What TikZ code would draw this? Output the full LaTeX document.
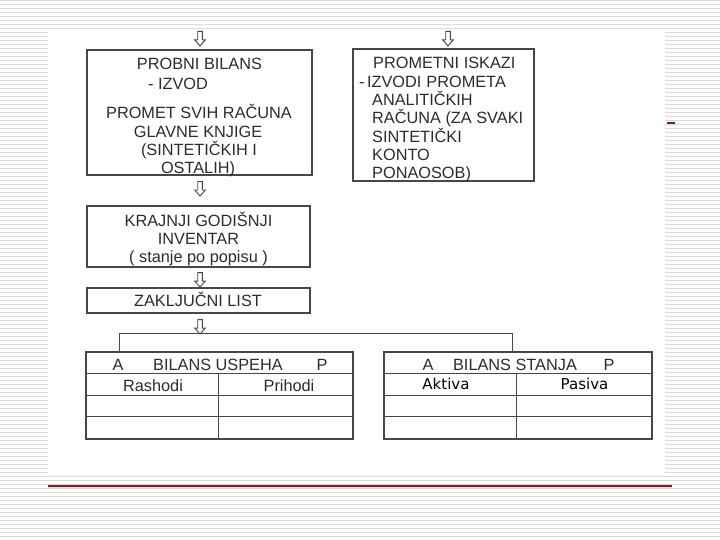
\documentclass[tikz,border=0pt]{standalone}
\usepackage{fontspec}
\setmainfont{Liberation Sans}
\newfontfamily\dvs{DejaVu Sans}
\usetikzlibrary{calc}
\definecolor{ink}{HTML}{2C2C2C}
\definecolor{edge}{HTML}{474747}
\definecolor{stripe}{HTML}{DADADA}
\definecolor{rulered}{HTML}{7B1F2B}
\definecolor{rulepink}{HTML}{F2D4D8}
\begin{document}
\begin{tikzpicture}[x=1pt,y=-1pt,
  box/.style={draw=edge, line width=1.1pt, inner sep=0pt},
  conn/.style={draw=edge, line width=1pt},
  txt/.style={text=ink, font=\fontsize{16.3}{18}\selectfont, inner sep=0pt, anchor=base},
  ltxt/.style={txt, anchor=base west},
  mtxt/.style={text=black, font=\dvs\fontsize{15}{18}\selectfont, inner sep=0pt, anchor=base},
  darrow/.pic={\draw[edge, line width=0.9pt, line join=miter, fill=white]
     (-2.3,0) -- (-2.3,8.5) -- (-5.3,8.5) -- (0,14.5) -- (5.3,8.5) -- (2.3,8.5) -- (2.3,0) -- cycle;}]
\useasboundingbox (0,0) rectangle (720,540);
% striped background
\foreach \y in {0.6,4.6,...,540} \draw[stripe, line width=1.2pt] (0,\y) -- (720,\y);
\fill[white] (48,30) rectangle (665,475.5);
% red rules
\draw[rulepink, line width=1.6pt] (48,487.6) -- (672,487.6);
\draw[rulered, line width=1.3pt] (48,486) -- (672,486);
\draw[rulered, line width=1.2pt] (667,123) -- (675,123);

% boxes
\node[box, minimum width=225pt, minimum height=125pt] (b1) at (199.5,112.5) {};
\node[box, minimum width=181pt, minimum height=132pt] (b2) at (443.5,115) {};
\node[box, minimum width=223pt, minimum height=61pt] (b3) at (198.5,236.5) {};
\node[box, minimum width=223pt, minimum height=25pt] (b4) at (198.5,300.5) {};
\node[box, minimum width=267pt, minimum height=87pt] (tl) at (219.5,395.5) {};
\node[box, minimum width=268pt, minimum height=87pt] (tr) at (518,395.5) {};

% table rules
\foreach \t in {tl,tr} {
  \draw[box] ($(\t.north west)+(0,22)$) -- ($(\t.north east)+(0,22)$);
  \draw[box] ($(\t.north west)+(0,44)$) -- ($(\t.north east)+(0,44)$);
  \draw[box] ($(\t.north west)+(0,65)$) -- ($(\t.north east)+(0,65)$);
  \draw[box] ($(\t.north west)+(133,22)$) -- ($(\t.south west)+(133,0)$);
}

% hollow arrows
\pic (a1) at ($(b1.north)+(0.5,-18)$) {darrow};
\pic (a2) at ($(b2.north)+(4.5,-17)$) {darrow};
\pic (a3) at ($(b1.south)+(0.5,6)$) {darrow};
\pic (a4) at ($(b3.south)+(1.5,5)$) {darrow};
\pic (a5) at ($(b4.south)+(1.5,6)$) {darrow};

% distribution line
\coordinate (bus) at ($(b4.south)+(1.5,20)$);
\draw[conn] ($(tl.north west)+(34,0)$) |- (bus) -| ($(tr.north west)+(129,0)$);

% box 1 text
\node[txt] (t11) at (199.5,70) {PROBNI BILANS};
\node[txt] (t12) at (178,90) {- IZVOD};
\node[txt] (t13) at (199,119) {PROMET SVIH RAČUNA};
\node[txt] (t14) at (198,137.2) {GLAVNE KNJIGE};
\node[txt] (t15) at (199,155.4) {(SINTETIČKIH I};
\node[txt] (t16) at (198,173.6) {OSTALIH)};

% box 2 text
\node[ltxt] (t21) at (373,69) {PROMETNI ISKAZI};
\node[ltxt] (t22) at (359,87.5) {-\hspace{2.5pt}IZVODI\hspace{5pt}PROMETA};
\node[ltxt] (t23) at (372,105.7) {ANALITIČKIH};
\node[ltxt] (t24) at (372,123.9) {RAČUNA (ZA SVAKI};
\node[ltxt] (t25) at (372,142.1) {SINTETIČKI};
\node[ltxt] (t26) at (372,160.3) {KONTO};
\node[ltxt] (t27) at (372,178.5) {PONAOSOB)};

% box 3 and 4 text
\node[txt] (t31) at (198.5,226) {KRAJNJI GODIŠNJI};
\node[txt] (t32) at (198.5,244) {INVENTAR};
\node[txt] (t33) at (198.5,262) {( stanje po popisu )};
\node[txt] (t41) at (198,306.5) {ZAKLJUČNI LIST};

% left table text
\node[txt] (l1) at (118,370) {A};
\node[txt] (l2) at (218,370) {BILANS USPEHA};
\node[txt] (l3) at (322,370) {P};
\node[txt] (l4) at (153,391.5) {Rashodi};
\node[txt] (l5) at (289,391.5) {Prihodi};

% right table text
\node[txt] (r1) at (428,370) {A};
\node[txt] (r2) at (515,370) {BILANS STANJA};
\node[txt] (r3) at (609,370) {P};
\node[mtxt] (r4) at (446,389) {Aktiva};
\node[mtxt] (r5) at (584.5,389) {Pasiva};
\end{tikzpicture}
\end{document}
